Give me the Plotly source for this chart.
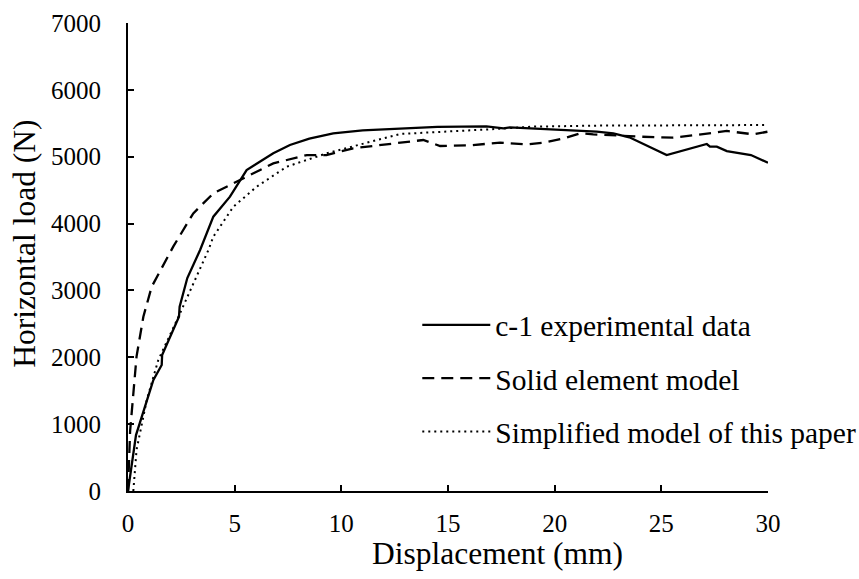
import plotly.graph_objects as go

# Experimental data (c-1)
exp_x = [0, 0.375, 1.19, 1.58, 1.6, 2.39, 2.42, 2.78, 3.38, 4.0, 4.78, 5.56, 6.81, 7.59, 8.5, 9.62,
         11, 12.75, 14.5, 16.8, 17.6, 17.9, 20, 21.97, 22.75, 23.5, 25.25, 27.13, 27.28, 27.6, 28.07, 29.2, 30]
exp_y = [0, 837, 1660, 1885, 2034, 2607, 2756, 3185, 3605, 4103, 4402, 4801, 5051, 5175, 5270, 5350,
         5395, 5420, 5445, 5455, 5425, 5440, 5410, 5375, 5350, 5290, 5025, 5190, 5150, 5150, 5085, 5025, 4910]

# Solid element model
sol_x = [0, 0.1, 0.4, 0.72, 1.11, 1.89, 2.12, 3.06, 4.0, 5.25, 6.81, 8.38, 9.3, 10.56, 12.44, 13.84,
         14.63, 16, 17.44, 18.69, 19.47, 20.5, 21.19, 21.81, 24.0, 25.56, 26.5, 28.07, 29.3, 30]
sol_y = [0, 900, 2010, 2607, 3055, 3505, 3655, 4153, 4452, 4651, 4900, 5025, 5025, 5126, 5200, 5250,
         5160, 5170, 5210, 5185, 5210, 5280, 5350, 5335, 5300, 5285, 5320, 5385, 5335, 5375]

# Simplified model of this paper
sim_x = [0.25, 0.4, 0.88, 1.42, 2.44, 3.77, 4.0, 4.94, 6.03, 7.44, 9.31, 12.75, 16.97, 19, 22, 25, 30]
sim_y = [0, 613, 1361, 1959, 2658, 3605, 3804, 4252, 4551, 4851, 5050, 5340, 5410, 5450, 5465, 5470, 5474]

names = ["c-1 experimental data", "Solid element model", "Simplified model of this paper"]
x_ticks = [0, 5, 10, 15, 20, 25, 30]
y_ticks = [0, 1000, 2000, 3000, 4000, 5000, 6000, 7000]
x_title = "Displacement (mm)"
y_title = "Horizontal load (N)"

FONT = "Liberation Serif, Times New Roman, serif"

fig = go.Figure()
fig.add_trace(go.Scatter(x=exp_x, y=exp_y, mode="lines", name=names[0], legendgroup="a",
                         line=dict(color="black", width=2.3, dash="solid")))
fig.add_trace(go.Scatter(x=sol_x, y=sol_y, mode="lines", name=names[1], legendgroup="b",
                         line=dict(color="black", width=2.3, dash="12px,7px")))
fig.add_trace(go.Scatter(x=sim_x, y=sim_y, mode="lines", name=names[2], legendgroup="c",
                         line=dict(color="black", width=2, dash="2px,4px")))

fig.update_layout(
    width=859, height=579,
    margin=dict(l=128, r=91, t=23, b=88, autoexpand=False),
    paper_bgcolor="white", plot_bgcolor="white",
    font=dict(family=FONT, color="black", size=25),
    showlegend=True,
    legend=dict(x=0.452, y=0.41, xanchor="left", yanchor="top",
                bgcolor="rgba(0,0,0,0)", font=dict(size=29.5, family=FONT),
                itemwidth=68, tracegroupgap=12),
    xaxis=dict(range=[0, 30], tickvals=x_ticks, showgrid=False, zeroline=False,
               showline=True, linecolor="black", linewidth=2,
               ticks="inside", ticklen=6, tickwidth=2, tickcolor="black",
               ticklabelstandoff=9, tickfont=dict(size=25)),
    yaxis=dict(range=[0, 7000], tickvals=y_ticks, showgrid=False, zeroline=False,
               showline=True, linecolor="black", linewidth=2,
               ticks="inside", ticklen=6, tickwidth=2, tickcolor="black",
               ticklabelstandoff=20, tickfont=dict(size=25)),
    annotations=[
        dict(text=x_title, xref="paper", yref="paper", x=0.578, y=-0.1325,
             xanchor="center", yanchor="middle", showarrow=False,
             font=dict(size=31.5, family=FONT, color="black")),
        dict(text=y_title, xref="paper", yref="paper", x=-0.161, y=0.528,
             xanchor="center", yanchor="middle", showarrow=False, textangle=-90,
             font=dict(size=31.5, family=FONT, color="black")),
    ],
)

fig.write_html("out.html")
